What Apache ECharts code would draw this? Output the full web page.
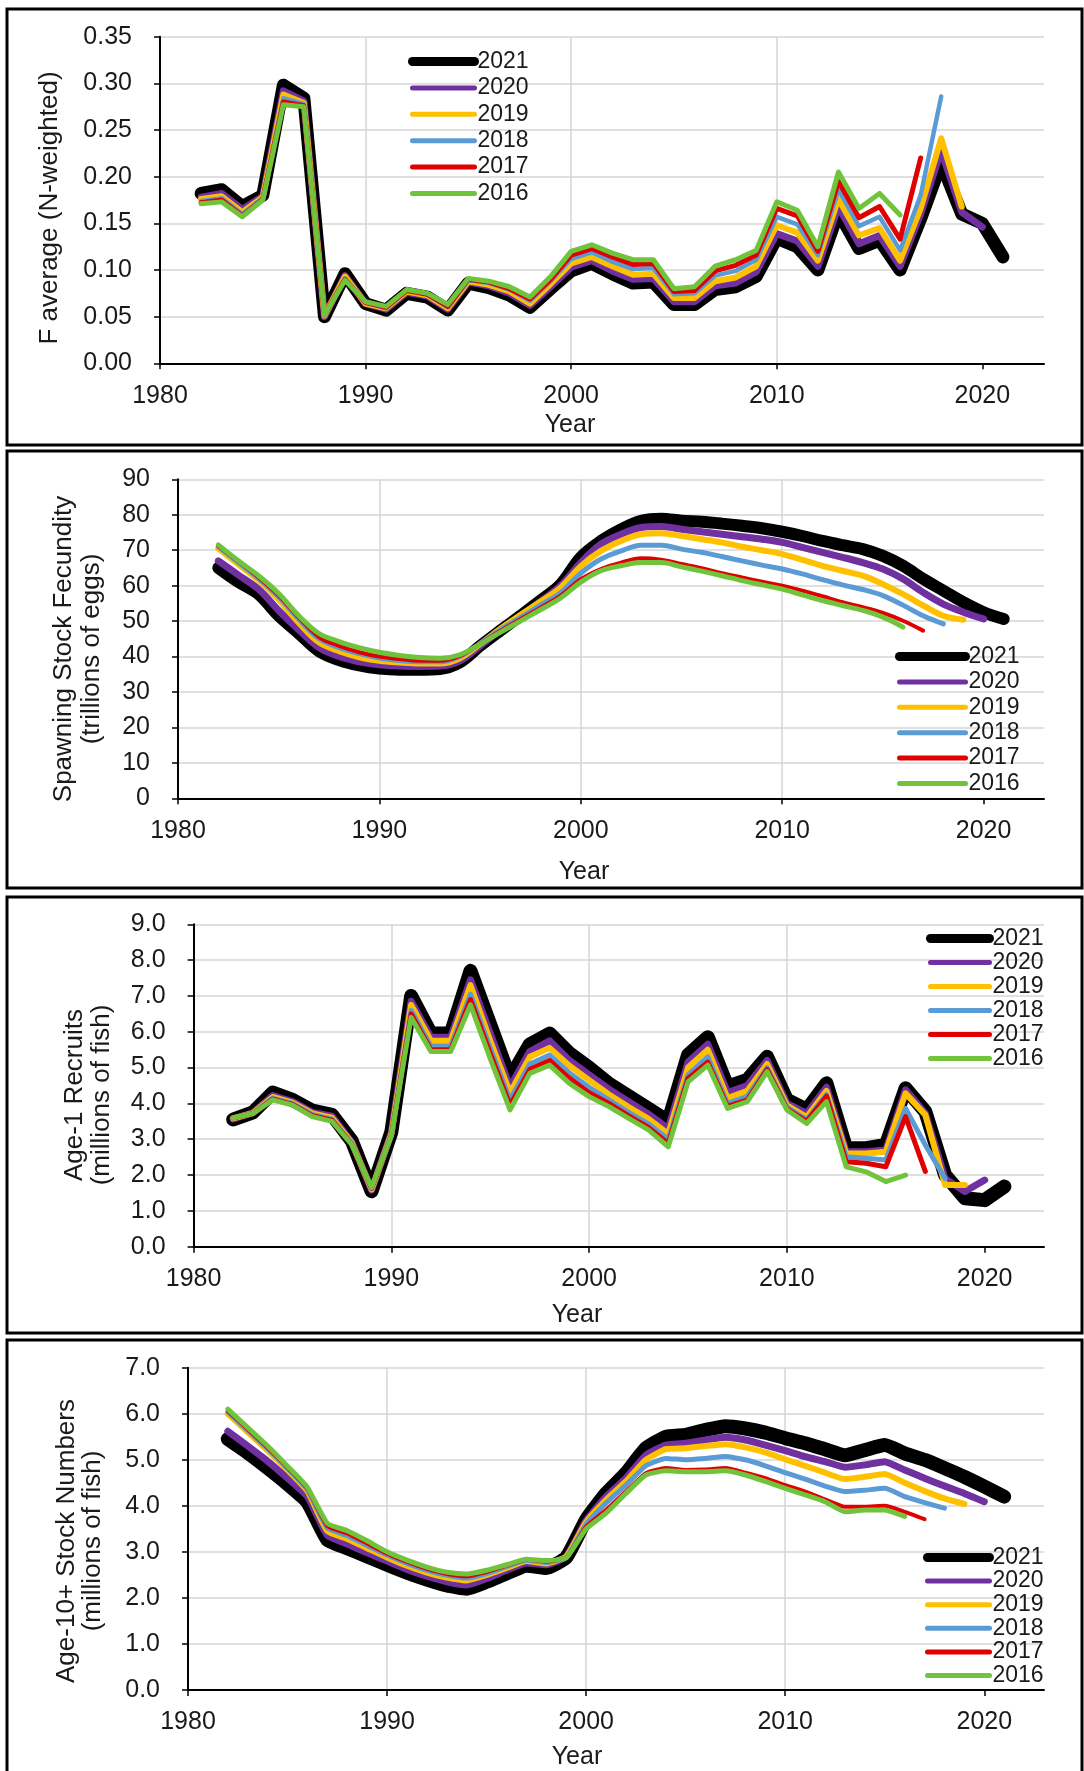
<!DOCTYPE html>
<html>
<head>
<meta charset="utf-8">
<script src="https://cdn.jsdelivr.net/npm/echarts@6/dist/echarts.min.js"></script>
<style>
html,body{margin:0;padding:0;background:#fff;}
#c{width:1084px;height:1771px;}
</style>
</head>
<body>
<div id="c"></div>
<script>
// ---------------- DATA ----------------
const years = [1982,1983,1984,1985,1986,1987,1988,1989,1990,1991,1992,1993,1994,1995,1996,1997,1998,1999,2000,2001,
               2002,2003,2004,2005,2006,2007,2008,2009,2010,2011,2012,2013,2014,2015,2016,2017,2018,2019,2020,2021];
const seriesNames = ['2021','2020','2019','2018','2017','2016'];
const xTickYears = [1980,1990,2000,2010,2020];

// Panel 1: F average (N-weighted)
const f2021 = [0.182,0.186,0.168,0.180,0.298,0.284,0.050,0.096,0.064,0.057,0.075,0.071,0.057,0.086,0.081,0.073,0.060,0.080,0.099,0.107,0.096,0.086,0.087,0.063,0.063,0.079,0.082,0.093,0.134,0.125,0.100,0.162,0.123,0.132,0.100,0.155,0.215,0.160,0.150,0.114];
const f2020 = [0.178,0.182,0.165,0.179,0.292,0.281,0.050,0.094,0.064,0.058,0.076,0.072,0.058,0.087,0.083,0.075,0.062,0.082,0.103,0.110,0.099,0.090,0.091,0.066,0.066,0.083,0.086,0.098,0.139,0.131,0.104,0.168,0.128,0.137,0.104,0.160,0.228,0.162,0.146];
const f2019 = [0.176,0.179,0.162,0.178,0.288,0.279,0.051,0.093,0.064,0.059,0.077,0.073,0.059,0.088,0.084,0.077,0.064,0.085,0.107,0.114,0.104,0.095,0.096,0.070,0.070,0.088,0.092,0.104,0.148,0.140,0.110,0.176,0.137,0.145,0.110,0.166,0.241,0.168];
const f2018 = [0.174,0.177,0.160,0.177,0.284,0.278,0.051,0.091,0.065,0.059,0.078,0.074,0.060,0.089,0.086,0.079,0.067,0.088,0.112,0.119,0.109,0.101,0.102,0.074,0.075,0.094,0.099,0.111,0.157,0.149,0.116,0.186,0.147,0.157,0.121,0.180,0.286];
const f2017 = [0.172,0.175,0.158,0.176,0.280,0.276,0.052,0.090,0.065,0.060,0.078,0.074,0.061,0.090,0.087,0.080,0.069,0.090,0.116,0.123,0.114,0.106,0.107,0.077,0.078,0.099,0.105,0.116,0.166,0.158,0.120,0.195,0.156,0.168,0.133,0.220];
const f2016 = [0.171,0.173,0.157,0.175,0.277,0.275,0.052,0.089,0.066,0.061,0.079,0.075,0.063,0.091,0.088,0.082,0.071,0.093,0.120,0.127,0.118,0.111,0.111,0.080,0.082,0.104,0.111,0.121,0.173,0.164,0.125,0.205,0.166,0.182,0.159];

// Panel 2: Spawning Stock Fecundity (trillions of eggs)
const ssf2021 = [65,61,57.6,51.5,46.5,41.5,39,37.5,36.6,36.3,36.3,36.5,38.4,43,47.3,51.5,55.8,60.4,68,72.6,75.9,78.3,78.9,78.3,78,77.5,76.9,76.2,75.2,74,72.6,71.4,70.3,68.4,65.6,61.9,58.6,55.3,52.5,50.6];
const ssf2020 = [67,63,59,53,47.5,42.5,40,38.5,37.7,37.3,37.2,37.3,38.8,43,47.5,51.5,55.5,60,66.5,71.7,74.5,76.4,76.7,75.9,75.2,74.5,73.8,73.1,72.2,70.8,69.4,68,66.5,64.7,61.9,58.1,54.8,52.5,50.6];
const ssf2019 = [70.5,66,61.5,56,49.5,44,41.5,39.8,38.8,38.3,38,38,39.5,43.5,47.8,51.7,55.5,59.5,65.5,69.8,72.6,74.5,74.8,74,73.1,72.2,71,70,68.9,67.3,65.6,64.2,62.8,60.4,57.6,54.4,51.5,50.4];
const ssf2018 = [71,66.5,62,56.8,50.5,45,42.5,40.8,39.6,38.9,38.5,38.5,40,43.6,47.5,51,54.5,58,63.5,67.5,69.8,71.4,71.4,70.3,69.4,68.2,67,65.8,64.7,63.3,61.7,60.2,58.9,57.2,54.5,51.5,49.2];
const ssf2017 = [71.2,66.8,62.3,57.2,51,45.5,43,41.2,40,39.3,38.8,38.8,40.2,43.6,47.2,50.5,53.8,57.2,61.8,64.7,66.5,67.7,67.3,66.1,64.9,63.5,62.3,61.1,60,58.6,57,55.3,53.9,52.3,50.1,47.3];
const ssf2016 = [71.5,67,62.8,57.8,51.5,46.5,44.2,42.5,41.2,40.3,39.7,39.5,40.5,43.5,46.8,50,53.2,56.5,61,64.2,65.6,66.5,66.5,65.3,64.1,62.8,61.4,60.2,59,57.4,55.8,54.4,53,51.1,48.3];

// Panel 3: Age-1 Recruits (millions of fish)
const rec2021 = [3.55,3.75,4.3,4.1,3.8,3.68,2.95,1.55,3.2,7.0,5.95,5.95,7.7,6.2,4.7,5.65,5.95,5.4,5.0,4.55,4.2,3.85,3.5,5.35,5.85,4.47,4.66,5.3,4.1,3.82,4.56,2.75,2.75,2.84,4.42,3.77,2.0,1.35,1.3,1.68];
const rec2020 = [3.57,3.74,4.22,4.05,3.75,3.64,2.92,1.58,3.18,6.85,5.85,5.85,7.45,5.95,4.45,5.45,5.75,5.2,4.8,4.4,4.05,3.7,3.3,5.15,5.65,4.3,4.5,5.2,4.0,3.72,4.45,2.65,2.65,2.7,4.38,3.72,1.9,1.54,1.86];
const rec2019 = [3.58,3.73,4.18,4.02,3.72,3.6,2.9,1.6,3.15,6.75,5.75,5.75,7.3,5.75,4.3,5.3,5.55,5.05,4.65,4.25,3.9,3.57,3.15,5.0,5.5,4.15,4.35,5.1,3.95,3.62,4.35,2.6,2.6,2.65,4.28,3.68,1.72,1.72];
const rec2018 = [3.59,3.72,4.15,4.0,3.69,3.56,2.88,1.62,3.13,6.6,5.6,5.6,7.05,5.55,4.1,5.1,5.35,4.85,4.45,4.1,3.75,3.43,3.0,4.8,5.3,4.0,4.2,5.0,3.9,3.55,4.25,2.51,2.47,2.42,3.86,2.84,1.9];
const rec2017 = [3.6,3.72,4.12,3.97,3.66,3.53,2.86,1.63,3.11,6.5,5.5,5.5,6.9,5.4,3.95,4.95,5.2,4.7,4.3,4.0,3.65,3.33,2.88,4.7,5.15,3.92,4.1,4.95,3.85,3.5,4.2,2.37,2.33,2.23,3.63,2.1];
const rec2016 = [3.6,3.72,4.1,3.95,3.63,3.5,2.85,1.65,3.1,6.4,5.45,5.45,6.75,5.25,3.82,4.84,5.07,4.56,4.19,3.91,3.58,3.26,2.79,4.6,5.07,3.86,4.05,4.89,3.82,3.44,4.05,2.23,2.09,1.82,2.0];

// Panel 4: Age-10+ Stock Numbers (millions of fish)
const a10p2021 = [5.45,5.15,4.82,4.47,4.08,3.26,3.08,2.9,2.72,2.55,2.4,2.27,2.2,2.35,2.53,2.7,2.65,2.88,3.7,4.27,4.71,5.25,5.5,5.54,5.65,5.73,5.68,5.59,5.47,5.36,5.23,5.1,5.21,5.32,5.14,5.0,4.82,4.63,4.42,4.2];
const a10p2020 = [5.62,5.3,4.97,4.6,4.2,3.36,3.17,2.98,2.8,2.62,2.47,2.35,2.28,2.42,2.6,2.76,2.72,2.9,3.68,4.2,4.6,5.1,5.32,5.36,5.43,5.49,5.43,5.32,5.2,5.07,4.96,4.84,4.89,4.96,4.78,4.6,4.43,4.27,4.09];
const a10p2019 = [6.0,5.6,5.2,4.78,4.32,3.45,3.28,3.08,2.88,2.7,2.55,2.44,2.38,2.5,2.65,2.8,2.75,2.9,3.65,4.13,4.53,5.0,5.23,5.25,5.3,5.34,5.27,5.16,5.01,4.87,4.72,4.58,4.63,4.69,4.5,4.32,4.16,4.04];
const a10p2018 = [6.04,5.64,5.24,4.81,4.35,3.52,3.35,3.14,2.93,2.75,2.6,2.49,2.43,2.53,2.68,2.82,2.77,2.88,3.6,4.06,4.45,4.87,5.03,5.0,5.03,5.07,5.0,4.87,4.72,4.58,4.43,4.31,4.34,4.38,4.2,4.07,3.95];
const a10p2017 = [6.06,5.66,5.26,4.83,4.37,3.56,3.4,3.18,2.96,2.78,2.63,2.52,2.47,2.56,2.7,2.83,2.79,2.88,3.55,3.91,4.31,4.71,4.82,4.78,4.79,4.82,4.72,4.6,4.45,4.31,4.14,3.98,3.98,4.0,3.87,3.71];
const a10p2016 = [6.1,5.7,5.3,4.86,4.4,3.62,3.46,3.24,3.0,2.82,2.67,2.56,2.52,2.6,2.72,2.84,2.81,2.87,3.5,3.84,4.27,4.67,4.76,4.74,4.74,4.76,4.67,4.53,4.38,4.24,4.09,3.87,3.91,3.91,3.77];

// ---------------- LAYOUT / STYLE ----------------
const FONT = '"Liberation Sans", Arial, Helvetica, sans-serif';
const colors = ['#000000','#7030A0','#FFC000','#5B9BD5','#E00000','#70C43C'];
const legendWidths = [9,5,5,5,5,5];
const GRID_GRAY = '#d6d6d6';
const TXT = '#1a1a1a';

const panels = [
  { series:[f2021,f2020,f2019,f2018,f2017,f2016], grid:{left:160,top:36.7,width:884,height:326.6},
    yMax:0.35, yInt:0.05, yDec:2, widths:[13,7,6,4.5,5,5], smooth:false,
    legend:{left:408, top:50, gap:3.4, iw:62},
    yTitle:[{t:'F average (N-weighted)', x:50}], yTitleY:208, xTitle:{x:570,y:425},
    box:{y:9, h:436} },
  { series:[ssf2021,ssf2020,ssf2019,ssf2018,ssf2017,ssf2016], grid:{left:178,top:479.3,width:866,height:319},
    yMax:90, yInt:10, yDec:0, widths:[12,7,6,5,4,5], smooth:0.35,
    legend:{left:895, top:645, gap:2.4, iw:66},
    yTitle:[{t:'Spawning Stock Fecundity', x:64},{t:'(trillions of eggs)', x:92}], yTitleY:649, xTitle:{x:584,y:872},
    box:{y:451, h:437} },
  { series:[rec2021,rec2020,rec2019,rec2018,rec2017,rec2016], grid:{left:193.6,top:924.3,width:850.4,height:322.4},
    yMax:9, yInt:1, yDec:1, widths:[14,7,6,5,5,5], smooth:false,
    legend:{left:926, top:927, gap:1.0, iw:59},
    yTitle:[{t:'Age-1 Recruits', x:75},{t:'(millions of fish)', x:102}], yTitleY:1095, xTitle:{x:577,y:1315},
    box:{y:897, h:436} },
  { series:[a10p2021,a10p2020,a10p2019,a10p2018,a10p2017,a10p2016], grid:{left:188,top:1367.7,width:856,height:322.3},
    yMax:7, yInt:1, yDec:1, widths:[14,7,6,5,4,5], smooth:0.15,
    legend:{left:923, top:1546, gap:0.6, iw:62},
    yTitle:[{t:'Age-10+ Stock Numbers', x:67},{t:'(millions of fish)', x:93}], yTitleY:1541, xTitle:{x:577,y:1757},
    box:{y:1340, h:440} }
];

const grids = [], xAxes = [], yAxes = [], series = [], legends = [], graphics = [];

panels.forEach((p, i) => {
  grids.push({left:p.grid.left, top:p.grid.top, width:p.grid.width, height:p.grid.height, containLabel:false});
  xAxes.push({
    type:'value', gridIndex:i, min:1980, max:2023, interval:10,
    axisLine:{show:true, onZero:false, lineStyle:{color:'#000', width:2}},
    axisTick:{show:true, length:6, lineStyle:{color:'#000', width:1.5}, customValues:xTickYears},
    axisLabel:{customValues:xTickYears, margin:20, fontSize:25, fontFamily:FONT, color:TXT, formatter:(v)=>String(Math.round(v))},
    splitLine:{show:true, showMaxLine:false, lineStyle:{color:[GRID_GRAY,GRID_GRAY,GRID_GRAY,GRID_GRAY,GRID_GRAY,'rgba(0,0,0,0)'], width:1.5}}
  });
  yAxes.push({
    type:'value', gridIndex:i, min:0, max:p.yMax, interval:p.yInt,
    axisLine:{show:true, lineStyle:{color:'#000', width:2}},
    axisTick:{show:true, length:6, lineStyle:{color:'#000', width:1.5}},
    axisLabel:{margin:28, fontSize:25, fontFamily:FONT, color:TXT, formatter:(v)=>Number(v).toFixed(p.yDec)},
    splitLine:{show:true, lineStyle:{color:GRID_GRAY, width:1.5}}
  });
  const legendData = [];
  p.series.forEach((vals, j) => {
    const nm = 'p' + i + '_' + seriesNames[j];
    legendData.push({name:nm, itemStyle:{opacity:0}, lineStyle:{width:legendWidths[j], color:colors[j], cap:'round'}});
    series.push({
      type:'line', name:nm, xAxisIndex:i, yAxisIndex:i,
      data: vals.map((v, k) => [years[k], v]),
      symbol:'none', showSymbol:false, smooth:p.smooth, animation:false,
      lineStyle:{color:colors[j], width:p.widths[j], cap:'round', join:'round'},
      itemStyle:{color:colors[j]},
      z: 2
    });
  });
  legends.push({
    orient:'vertical', left:p.legend.left, top:p.legend.top,
    itemWidth:p.legend.iw, itemHeight:12, itemGap:p.legend.gap, padding:0,
    data:legendData, selectedMode:false,
    itemStyle:{opacity:0},
    formatter:(n)=>n.split('_')[1],
    textStyle:{fontSize:23, fontFamily:FONT, color:TXT, lineHeight:22, padding:[0,0,0,-2]}
  });
  // panel border
  graphics.push({type:'rect', shape:{x:7, y:p.box.y, width:1075, height:p.box.h},
    style:{fill:'none', stroke:'#000', lineWidth:3}, silent:true, z:0});
  // axis titles
  graphics.push({type:'text', x:p.xTitle.x, y:p.xTitle.y, silent:true,
    style:{text:'Year', font:'25px ' + FONT, fill:TXT, align:'center', verticalAlign:'middle', textAlign:'center', textVerticalAlign:'middle'}});
  p.yTitle.forEach(tt => {
    graphics.push({type:'text', x:tt.x, y:p.yTitleY, rotation:Math.PI/2, silent:true,
      style:{text:tt.t, font:'26px ' + FONT, fill:TXT, align:'center', verticalAlign:'middle', textAlign:'center', textVerticalAlign:'middle'}});
  });
});

const chart = echarts.init(document.getElementById('c'), null, {renderer:'canvas', width:1084, height:1771});
chart.setOption({
  animation:false,
  backgroundColor:'#ffffff',
  grid:grids, xAxis:xAxes, yAxis:yAxes, series:series, legend:legends,
  graphic:graphics
});
</script>
</body>
</html>
